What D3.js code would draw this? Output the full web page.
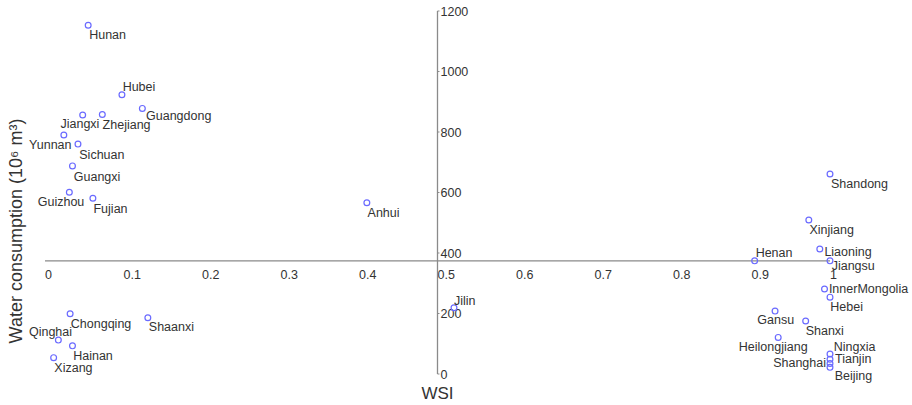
<!DOCTYPE html>
<html lang="en">
<head>
    <meta charset="UTF-8">
    <title>WSI vs water consumption</title>
    <script src="https://d3js.org/d3.v7.min.js"></script>
    <style>
        body {
            margin: 0;
            background-color: #fff;
        }

        svg text {
            font-family: "Liberation Sans", Arial, sans-serif;
            fill: #333;
        }
    </style>
</head>
<body>
    <svg id="chart" width="912" height="405"></svg>
    <script>
        // Data
        const provinces = ["Hunan", "Hubei", "Guangdong", "Jiangxi", "Zhejiang", "Yunnan", "Sichuan",
            "Guangxi", "Guizhou", "Fujian", "Anhui", "Shandong", "Xinjiang", "Henan", "Liaoning",
            "Jiangsu", "InnerMongolia", "Hebei", "Gansu", "Shanxi", "Heilongjiang", "Ningxia",
            "Tianjin", "Shanghai", "Beijing", "Chongqing", "Shaanxi", "Qinghai", "Hainan", "Xizang", "Jilin"];
        const wsi = [0.055, 0.098, 0.124, 0.048, 0.073, 0.024, 0.042,
            0.035, 0.031, 0.061, 0.410, 1.0, 0.973, 0.904, 0.987,
            1.0, 0.993, 1.0, 0.930, 0.969, 0.934, 1.0,
            1.0, 1.0, 1.0, 0.032, 0.131, 0.017, 0.035, 0.011, 0.521];
        const water = [1153, 923, 878, 856, 858, 790, 760,
            688, 601, 581, 566, 661, 509, 374, 413,
            374, 281, 254, 208, 175, 121, 66,
            49, 35, 22, 199, 186, 112, 93, 54, 219];
        const xTicks = [0, 0.1, 0.2, 0.3, 0.4, 0.5, 0.6, 0.7, 0.8, 0.9, 1];
        const yTicks = [0, 200, 400, 600, 800, 1000, 1200];
        const xCross = 0.5;   // y axis drawn at this WSI
        const yCross = 374;   // x axis drawn at this consumption

        // label placement: [anchor, dx, dy of text centre]
        const labelPos = {
            Hunan: ["start", 1, 9], Hubei: ["start", 0.7, -8.7], Guangdong: ["start", 3.7, 7.4],
            Jiangxi: ["end", 16.7, 8.3], Zhejiang: ["start", 0.3, 10], Yunnan: ["end", 7.7, 9],
            Sichuan: ["start", 1.3, 10], Guangxi: ["start", 1.3, 10.7], Guizhou: ["end", 15, 9.4],
            Fujian: ["start", 0.6, 10], Anhui: ["start", 0.7, 9.3], Shandong: ["start", 1, 9.3],
            Xinjiang: ["start", 0.6, 9.3], Henan: ["start", 1, -8.3], Liaoning: ["start", 4.6, 2.7],
            Jiangsu: ["start", 1.7, 4.3], InnerMongolia: ["start", 4.4, 0], Hebei: ["start", 0.3, 9.4],
            Gansu: ["middle", 0.7, 8.3], Shanxi: ["start", 0, 9.3], Heilongjiang: ["middle", -5, 9.4],
            Ningxia: ["start", 3.7, -7.6], Tianjin: ["start", 5, -1], Shanghai: ["end", -4, -1],
            Beijing: ["start", 4.7, 7.7], Chongqing: ["start", 0.7, 9.6], Shaanxi: ["start", 1, 9],
            Qinghai: ["end", 13.7, -8.3], Hainan: ["start", 0.7, 9.7], Xizang: ["start", 0.7, 9.6],
            Jilin: ["start", 0, -7.7]
        };

        const svg = d3.select("#chart");
        const x = d3.scaleLinear().domain([0, 1]).range([45, 830]);
        const y = d3.scaleLinear().domain([0, 1200]).range([374, 11]);

        const axisColor = "#8a8a8a";

        // x axis through yCross
        const gx = svg.append("g").attr("transform", `translate(0,${y(yCross)})`);
        gx.append("line")
            .attr("x1", x(0)).attr("x2", x(1))
            .attr("stroke", axisColor).attr("stroke-width", 1.3);
        gx.selectAll("text.tick")
            .data(xTicks)
            .enter()
            .append("text")
            .attr("class", "tick")
            .attr("x", d => x(d))
            .attr("y", 18.5)
            .attr("font-size", "12.5px")
            .text(d => d3.format("~g")(d));

        // y axis through xCross
        const gy = svg.append("g").attr("transform", `translate(${x(xCross)},0)`);
        gy.append("line")
            .attr("y1", y(0)).attr("y2", y(1200))
            .attr("stroke", axisColor).attr("stroke-width", 1.3);
        gy.selectAll("line.tick")
            .data(yTicks)
            .enter()
            .append("line")
            .attr("class", "tick")
            .attr("x1", 0).attr("x2", 2)
            .attr("y1", d => y(d)).attr("y2", d => y(d))
            .attr("stroke", axisColor);
        gy.selectAll("text.tick")
            .data(yTicks)
            .enter()
            .append("text")
            .attr("class", "tick")
            .attr("x", 3)
            .attr("y", d => y(d) + 4.5)
            .attr("font-size", "12.5px")
            .text(d => d);

        // axis titles
        svg.append("text")
            .attr("x", x(xCross))
            .attr("y", 398.5)
            .attr("text-anchor", "middle")
            .attr("font-size", "17px")
            .attr("fill", "#222")
            .text("WSI");

        svg.append("text")
            .attr("transform", "translate(21.5,231) rotate(-90)")
            .attr("text-anchor", "middle")
            .attr("font-size", "18px")
            .attr("fill", "#222")
            .text("Water consumption (10\u2076 m\u00b3)");

        // points
        const points = provinces.map((p, i) => ({ name: p, wsi: wsi[i], water: water[i] }));

        svg.selectAll("circle")
            .data(points)
            .enter()
            .append("circle")
            .attr("cx", d => x(d.wsi))
            .attr("cy", d => y(d.water))
            .attr("r", 2.9)
            .attr("fill", "none")
            .attr("stroke", "#6a6aff")
            .attr("stroke-width", 1.2);

        svg.selectAll("text.label")
            .data(points)
            .enter()
            .append("text")
            .attr("class", "label")
            .attr("x", d => x(d.wsi) + labelPos[d.name][1])
            .attr("y", d => y(d.water) + labelPos[d.name][2] + 4.5)
            .attr("text-anchor", d => labelPos[d.name][0])
            .attr("font-size", "12.5px")
            .text(d => d.name);
    </script>
</body>
</html>
